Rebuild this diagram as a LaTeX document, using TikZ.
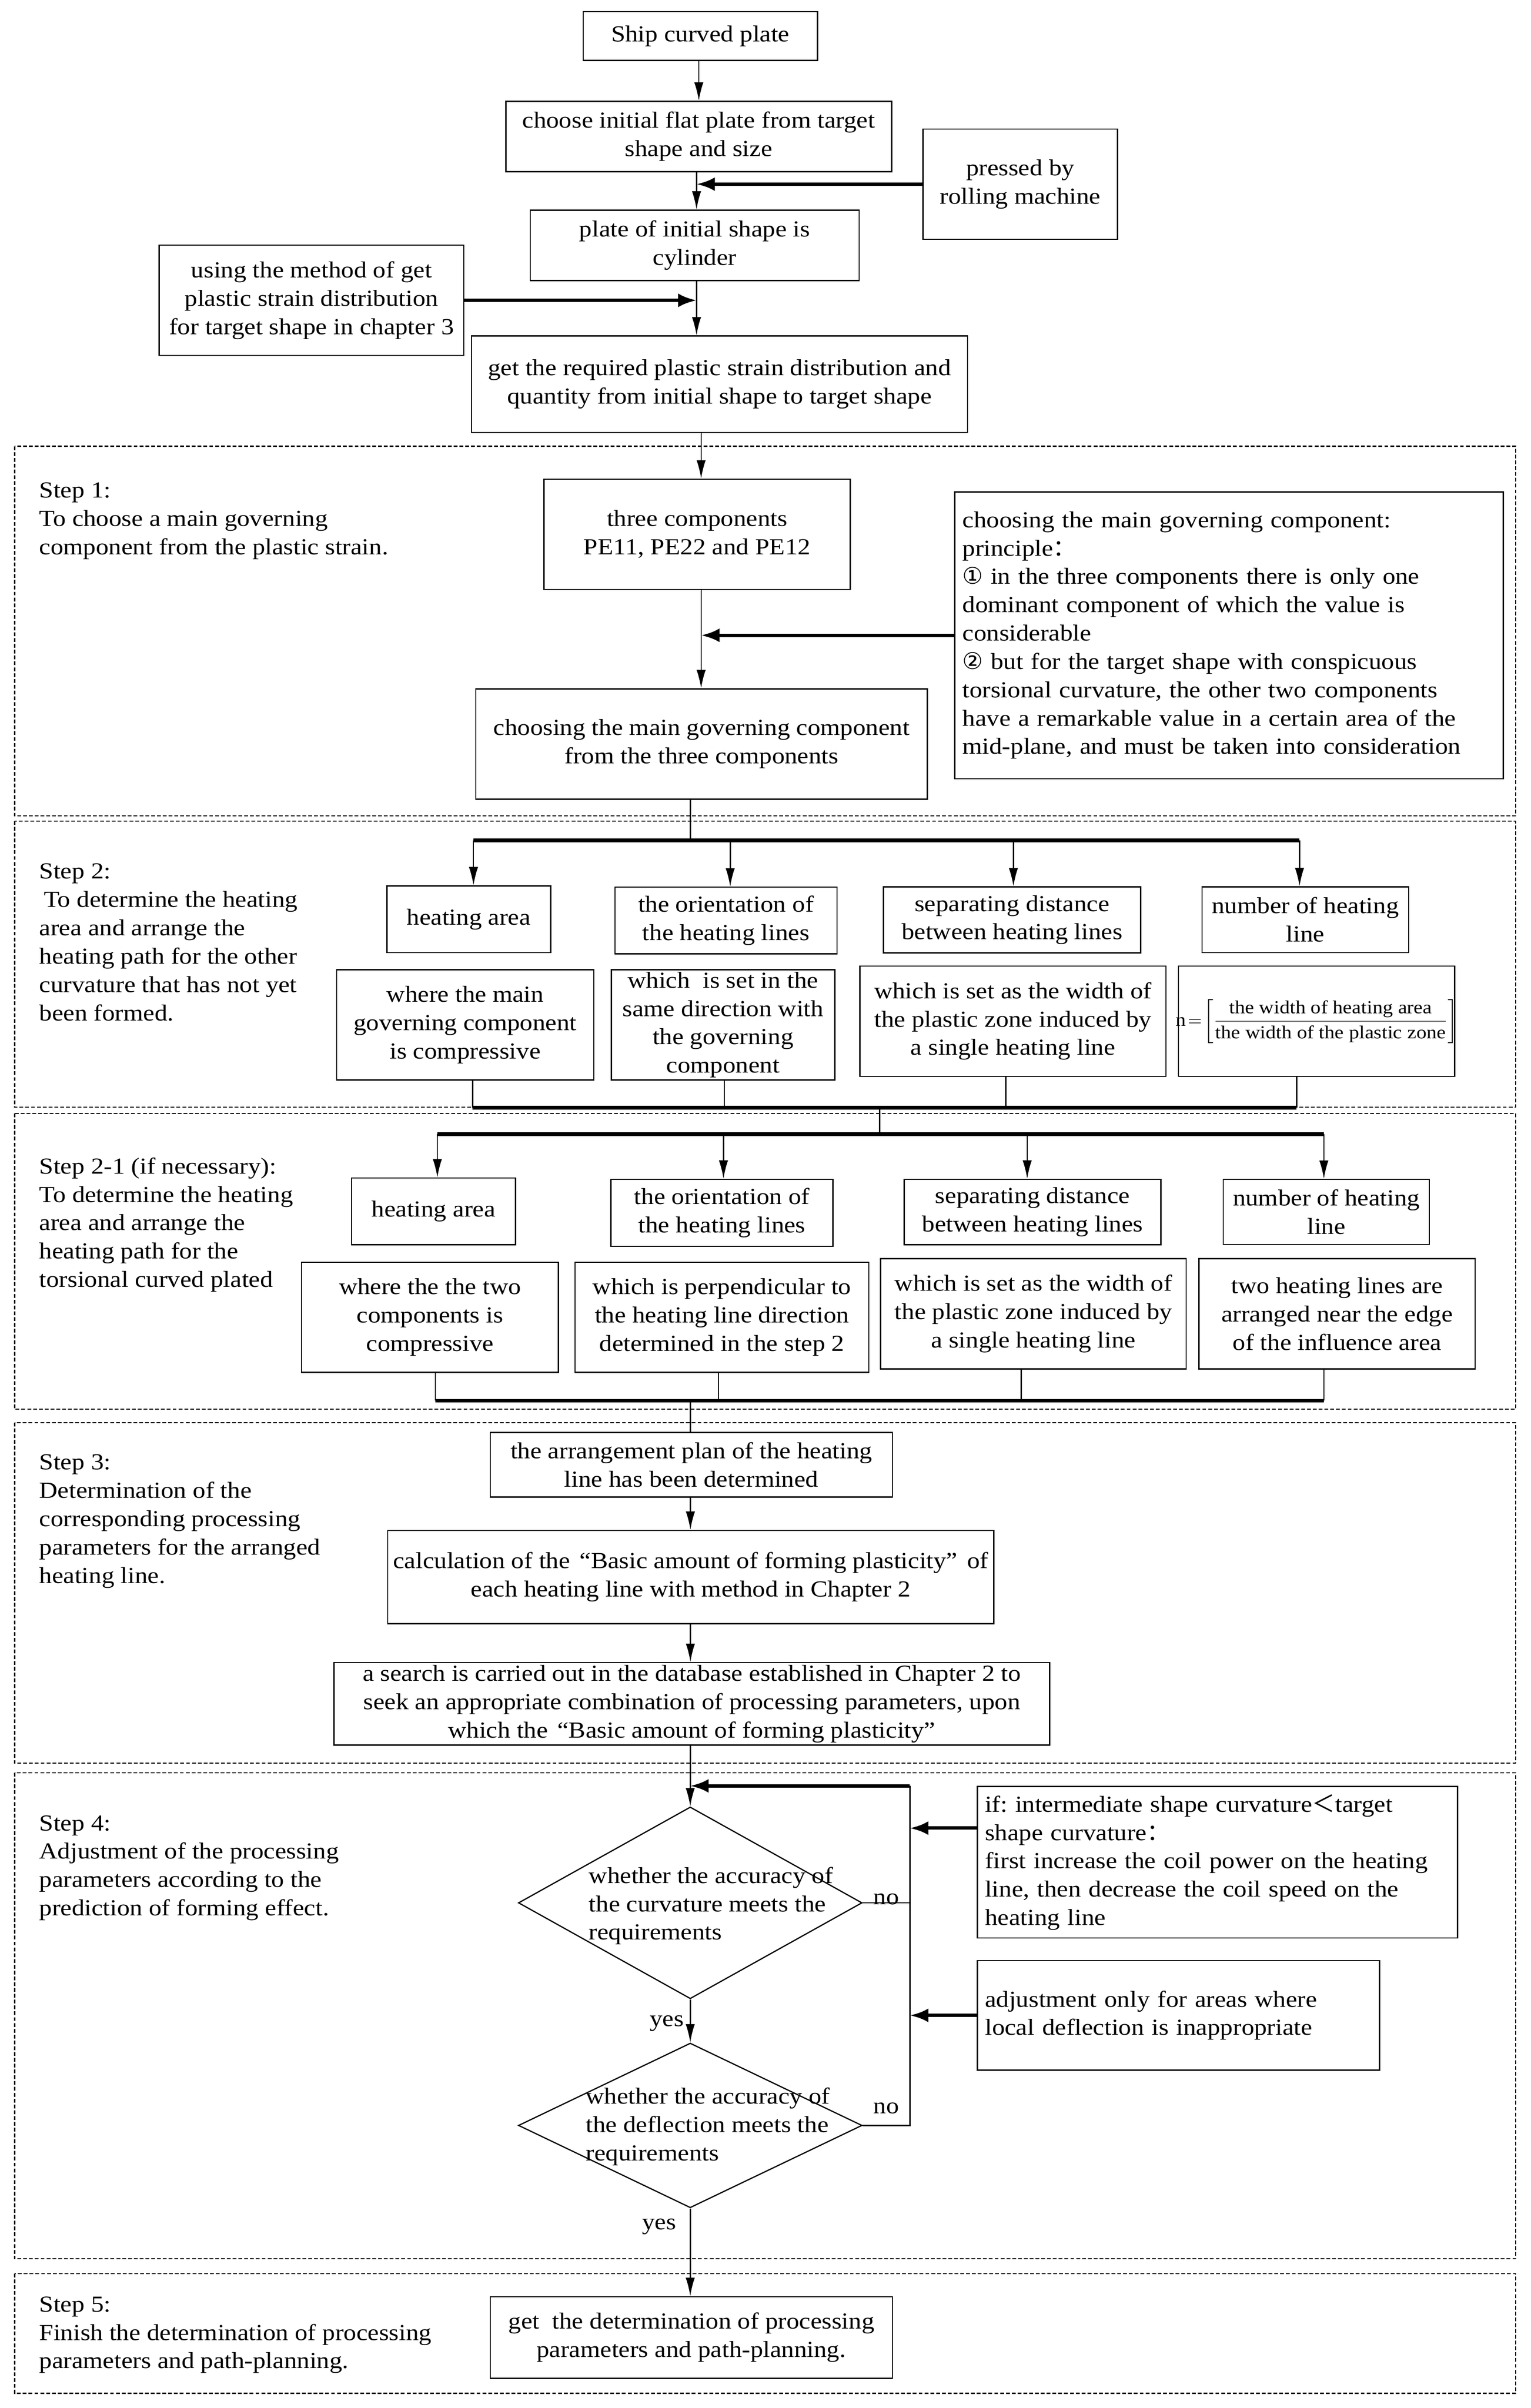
\documentclass[tikz,border=0pt]{standalone}
\usepackage{amsmath}
\usepackage{fontspec}
\setmainfont{Liberation Serif}[FakeStretch=1.11]
\newfontfamily\cjkf{Noto Sans CJK SC}
\newfontfamily\djv{DejaVu Sans}
\usetikzlibrary{arrows.meta,shapes.geometric}
\newcommand\fs{\fontsize{15}{18.5}\selectfont\frenchspacing}
\tikzset{
 box/.style={draw, line width=0.8pt, inner sep=0pt, align=center, font=\fs},
 lbox/.style={draw, line width=0.8pt, inner xsep=5pt, inner ysep=0pt, align=left, font=\fs},
 txt/.style={inner sep=0pt, align=left, font=\fs, anchor=north west},
 dtxt/.style={inner sep=0pt, align=left, font=\fs, anchor=west},
 lab/.style={inner sep=0pt, font=\fs},
 frame/.style={draw, line width=0.7pt, dash pattern=on 2.5pt off 1.3pt},
 arr/.style={line width=0.8pt, -{Latex[length=12pt,width=6pt]}},
 tarr/.style={line width=2.2pt, -{Latex[length=12pt,width=9pt]}},
 ln/.style={line width=0.8pt},
 bar/.style={line width=2.5pt},
 dia/.style={draw, diamond, line width=0.8pt, inner sep=0pt},
}
\begin{document}
\begin{tikzpicture}[x=1pt,y=-1pt]
\path[fill=white] (0,0) rectangle (1000,1573);
\useasboundingbox (0,0) rectangle (1000,1573);

% ---------- top part ----------
\node[box, minimum width=153pt, minimum height=32pt] (ship) at (457.5,23.5) {Ship curved plate};
\node[box, minimum width=252pt, minimum height=46pt] (choose) at (456.4,89.2) {choose initial flat plate from target\\shape and size};
\node[box, minimum width=127pt, minimum height=72pt] (press) at (666.5,120.3) {pressed by\\rolling machine};
\node[box, minimum width=215pt, minimum height=46pt] (plate) at (453.8,160.3) {plate of initial shape is\\cylinder};
\node[box, minimum width=199pt, minimum height=72pt] (using) at (203.5,196.2) {using the method of get\\plastic strain distribution\\for target shape in chapter 3};
\node[box, minimum width=324pt, minimum height=63pt] (getreq) at (470,251) {get the required plastic strain distribution and\\quantity from initial shape to target shape};

\coordinate (xa) at (456.5,0);
\coordinate (xb) at (455,0);
\coordinate (jp) at (455,120.3);
\coordinate (ju) at (455,196.2);
\draw[arr] (ship.south -| xa) -- (choose.north -| xa);
\draw[arr] (choose.south -| xb) -- (plate.north -| xb);
\draw[tarr] (press.west) -- (jp);
\draw[arr] (plate.south -| xb) -- (getreq.north -| xb);
\draw[tarr] (using.east) -- (ju);

% ---------- Step 1 ----------
\draw[frame] (9.6,291.5) rectangle (990,533);
\node[txt] (s1) at (25.5,315) {Step 1:\\To choose a main governing\\component from the plastic strain.};
\node[box, minimum width=200pt, minimum height=72pt] (three) at (455.4,349) {three components\\PE11, PE22 and PE12};
\node[lbox, text width=348.3pt, minimum height=187.3pt] (princ) at (802.9,415) {choosing the main governing component:\\principle{\cjkf ：}\\{\djv ①} in the three components there is only one\\dominant component of which the value is\\considerable\\{\djv ②} but for the target shape with conspicuous\\torsional curvature, the other two components\\have a remarkable value in a certain area of the\\mid-plane, and must be taken into consideration};
\node[box, minimum width=295pt, minimum height=72pt] (choosing) at (458.3,486) {choosing the main governing component\\from the three components};
\coordinate (xc) at (458,0);
\coordinate (jc) at (458,415);
\draw[arr] (getreq.south -| xc) -- (three.north -| xc);
\draw[arr] (three.south -| xc) -- (choosing.north -| xc);
\draw[tarr] (princ.west) -- (jc);

% ---------- Step 2 ----------
\draw[frame] (9.6,536.4) rectangle (990,723.3);
\node[txt] (s2) at (25.5,564) {Step 2:\\\hspace*{3pt}To determine the heating\\area and arrange the\\heating path for the other\\curvature that has not yet\\been formed.};
\coordinate (xd) at (451,0);
\coordinate (b2a) at (309.3,549);
\coordinate (b2b) at (477,549);
\coordinate (b2c) at (662,549);
\coordinate (b2d) at (848.9,549);
\node[box, minimum width=107pt, minimum height=43.5pt] (ha2) at (306.2,600.5) {heating area};
\node[box, minimum width=145pt, minimum height=43.5pt] (or2) at (474.2,601.3) {the orientation of\\the heating lines};
\node[box, minimum width=168pt, minimum height=43pt] (sp2) at (661.1,600.9) {separating distance\\between heating lines};
\node[box, minimum width=135pt, minimum height=43pt] (nm2) at (852.7,600.8) {number of heating\\line};
\node[box, minimum width=168pt, minimum height=72pt] (wh2) at (303.9,669.5) {where the main\\governing component\\is compressive};
\node[box, minimum width=146pt, minimum height=72pt] (ws2) at (472.3,669.5) {which\ \ is set in the\\same direction with\\the governing\\component};
\node[box, minimum width=200pt, minimum height=72pt] (wd2) at (661.7,667.1) {which is set as the width of\\the plastic zone induced by\\a single heating line};
\node[box, minimum width=180.5pt, minimum height=72pt] (fm2) at (860,667.1) {\makebox[176pt][c]{\fontsize{12}{14}\selectfont$\text{n}\!=\!\left[\dfrac{\mbox{\fontsize{12}{14}\selectfont the width of heating area}}{\mbox{\fontsize{12}{14}\selectfont the width of the plastic zone}}\right]$}};
\draw[ln] (choosing.south -| xd) -- (xd |- b2a);
\draw[bar] (b2a) -- (b2d);
\draw[arr] (b2a) -- (b2a |- ha2.north);
\draw[arr] (b2b) -- (b2b |- or2.north);
\draw[arr] (b2c) -- (b2c |- sp2.north);
\draw[arr] (b2d) -- (b2d |- nm2.north);
\coordinate (c2a) at (308.7,723.5);
\coordinate (c2b) at (473.2,723.5);
\coordinate (c2c) at (657,723.5);
\coordinate (c2d) at (847,723.5);
\draw[ln] (wh2.south -| c2a) -- (c2a);
\draw[ln] (ws2.south -| c2b) -- (c2b);
\draw[ln] (wd2.south -| c2c) -- (c2c);
\draw[ln] (fm2.south -| c2d) -- (c2d);
\draw[bar] (c2a) -- (c2d);

% ---------- Step 2-1 ----------
\draw[frame] (9.6,727.4) rectangle (990,920.6);
\node[txt] (s21) at (25.5,756) {Step 2-1 (if necessary):\\To determine the heating\\area and arrange the\\heating path for the\\torsional curved plated};
\coordinate (xe) at (574.6,723.5);
\coordinate (b3a) at (285.7,741);
\coordinate (b3b) at (472.6,741);
\coordinate (b3c) at (671,741);
\coordinate (b3d) at (864.8,741);
\node[box, minimum width=107pt, minimum height=43.5pt] (ha3) at (283.2,791.3) {heating area};
\node[box, minimum width=145pt, minimum height=43.8pt] (or3) at (471.6,792.3) {the orientation of\\the heating lines};
\node[box, minimum width=167.7pt, minimum height=42.6pt] (sp3) at (674.5,791.7) {separating distance\\between heating lines};
\node[box, minimum width=134.6pt, minimum height=42.5pt] (nm3) at (866.4,791.7) {number of heating\\line};
\node[box, minimum width=167.8pt, minimum height=72pt] (wh3) at (280.9,860.5) {where the the two\\components is\\compressive};
\node[box, minimum width=192pt, minimum height=72pt] (pp3) at (471.6,860.5) {which is perpendicular to\\the heating line direction\\determined in the step 2};
\node[box, minimum width=199.6pt, minimum height=72pt] (wd3) at (675.1,858.2) {which is set as the width of\\the plastic zone induced by\\a single heating line};
\node[box, minimum width=180.4pt, minimum height=72pt] (tw3) at (873.4,858.2) {two heating lines are\\arranged near the edge\\of the influence area};
\draw[ln] (xe) -- (xe |- b3a);
\draw[bar] (b3a) -- (b3d);
\draw[arr] (b3a) -- (b3a |- ha3.north);
\draw[arr] (b3b) -- (b3b |- or3.north);
\draw[arr] (b3c) -- (b3c |- sp3.north);
\draw[arr] (b3d) -- (b3d |- nm3.north);
\coordinate (c3a) at (284.4,915);
\coordinate (c3b) at (469.4,915);
\coordinate (c3c) at (667.1,915);
\coordinate (c3d) at (864.8,915);
\draw[ln] (wh3.south -| c3a) -- (c3a);
\draw[ln] (pp3.south -| c3b) -- (c3b);
\draw[ln] (wd3.south -| c3c) -- (c3c);
\draw[ln] (tw3.south -| c3d) -- (c3d);
\draw[bar] (c3a) -- (c3d);

% ---------- Step 3 ----------
\draw[frame] (9.6,929.3) rectangle (990,1151.7);
\node[txt] (s3) at (25.5,950) {Step 3:\\Determination of the\\corresponding processing\\parameters for the arranged\\heating line.};
\node[box, minimum width=262.8pt, minimum height=42.2pt] (plan) at (451.6,956.9) {the arrangement plan of the heating\\line has been determined};
\node[box, minimum width=396pt, minimum height=60.9pt] (calc) at (451.2,1030.2) {calculation of the\hspace{2pt} “Basic amount of forming plasticity”\hspace{2pt} of\\each heating line with method in Chapter 2};
\node[box, minimum width=467.5pt, minimum height=53.9pt] (srch) at (451.9,1113) {a search is carried out in the database established in Chapter 2 to\\seek an appropriate combination of processing parameters, upon\\which the\hspace{2pt} “Basic amount of forming plasticity”};
\coordinate (c3x) at (451,915);
\draw[ln] (c3x) -- (c3x |- plan.north);
\draw[arr] (plan.south -| xd) -- (calc.north -| xd);
\draw[arr] (calc.south -| xd) -- (srch.north -| xd);

% ---------- Step 4 ----------
\draw[frame] (9.6,1158.1) rectangle (990,1475.5);
\node[txt] (s4) at (25.5,1185.7) {Step 4:\\Adjustment of the processing\\parameters according to the\\prediction of forming effect.};
\node[dia, minimum width=224.5pt, minimum height=125.3pt] (d1) at (450.9,1243) {};
\node[dtxt] (d1t) at (384.5,1245) {whether the accuracy of\\the curvature meets the\\requirements};
\node[dia, minimum width=224.5pt, minimum height=107.6pt] (d2) at (450.9,1388.4) {};
\node[dtxt] (d2t) at (382.5,1389.2) {whether the accuracy of\\the deflection meets the\\requirements};
\node[lbox, text width=303.8pt, minimum height=99pt] (ifb) at (795.3,1216.5) {if: intermediate shape curvature{\cjkf ＜}target\\shape curvature{\cjkf ：}\\first increase the coil power on the heating\\line, then decrease the coil speed on the\\heating line};
\node[lbox, text width=252.7pt, minimum height=71.7pt] (adj) at (769.8,1316.5) {adjustment only for areas where\\local deflection is inappropriate};
\node[lab] (no1) at (579,1240.6) {no};
\node[lab] (no2) at (579,1377.3) {no};
\node[lab] (yes1) at (435.6,1321.6) {yes};
\node[lab] (yes2) at (430.5,1454.6) {yes};
\coordinate (fbt) at (594.4,1166.6);
\coordinate (fbb) at (594.4,1388.4);
\coordinate (fi) at (594.4,1194.2);
\draw[arr] (srch.south -| d1.north) -- (d1.north);
\draw[ln] (d2.east) -- (fbb) -- (fbt);
\draw[tarr] (fbt) -- (fbt -| d1.north);
\draw[ln] (d1.east) -- (d1.east -| fbt);
\draw[tarr] (fi -| ifb.west) -- (fi);
\draw[tarr] (adj.west) -- (adj.west -| fbt);
\draw[arr] (d1.south) -- (d2.north);

% ---------- Step 5 ----------
\draw[frame] (9.6,1485.1) rectangle (990,1563.4);
\node[txt] (s5) at (25.5,1500) {Step 5:\\Finish the determination of processing\\parameters and path-planning.};
\node[box, minimum width=262.8pt, minimum height=53.3pt] (fin) at (451.6,1526.9) {get\ \ the determination of processing\\parameters and path-planning.};
\draw[arr] (d2.south) -- (fin.north -| d2.south);
\end{tikzpicture}
\end{document}
